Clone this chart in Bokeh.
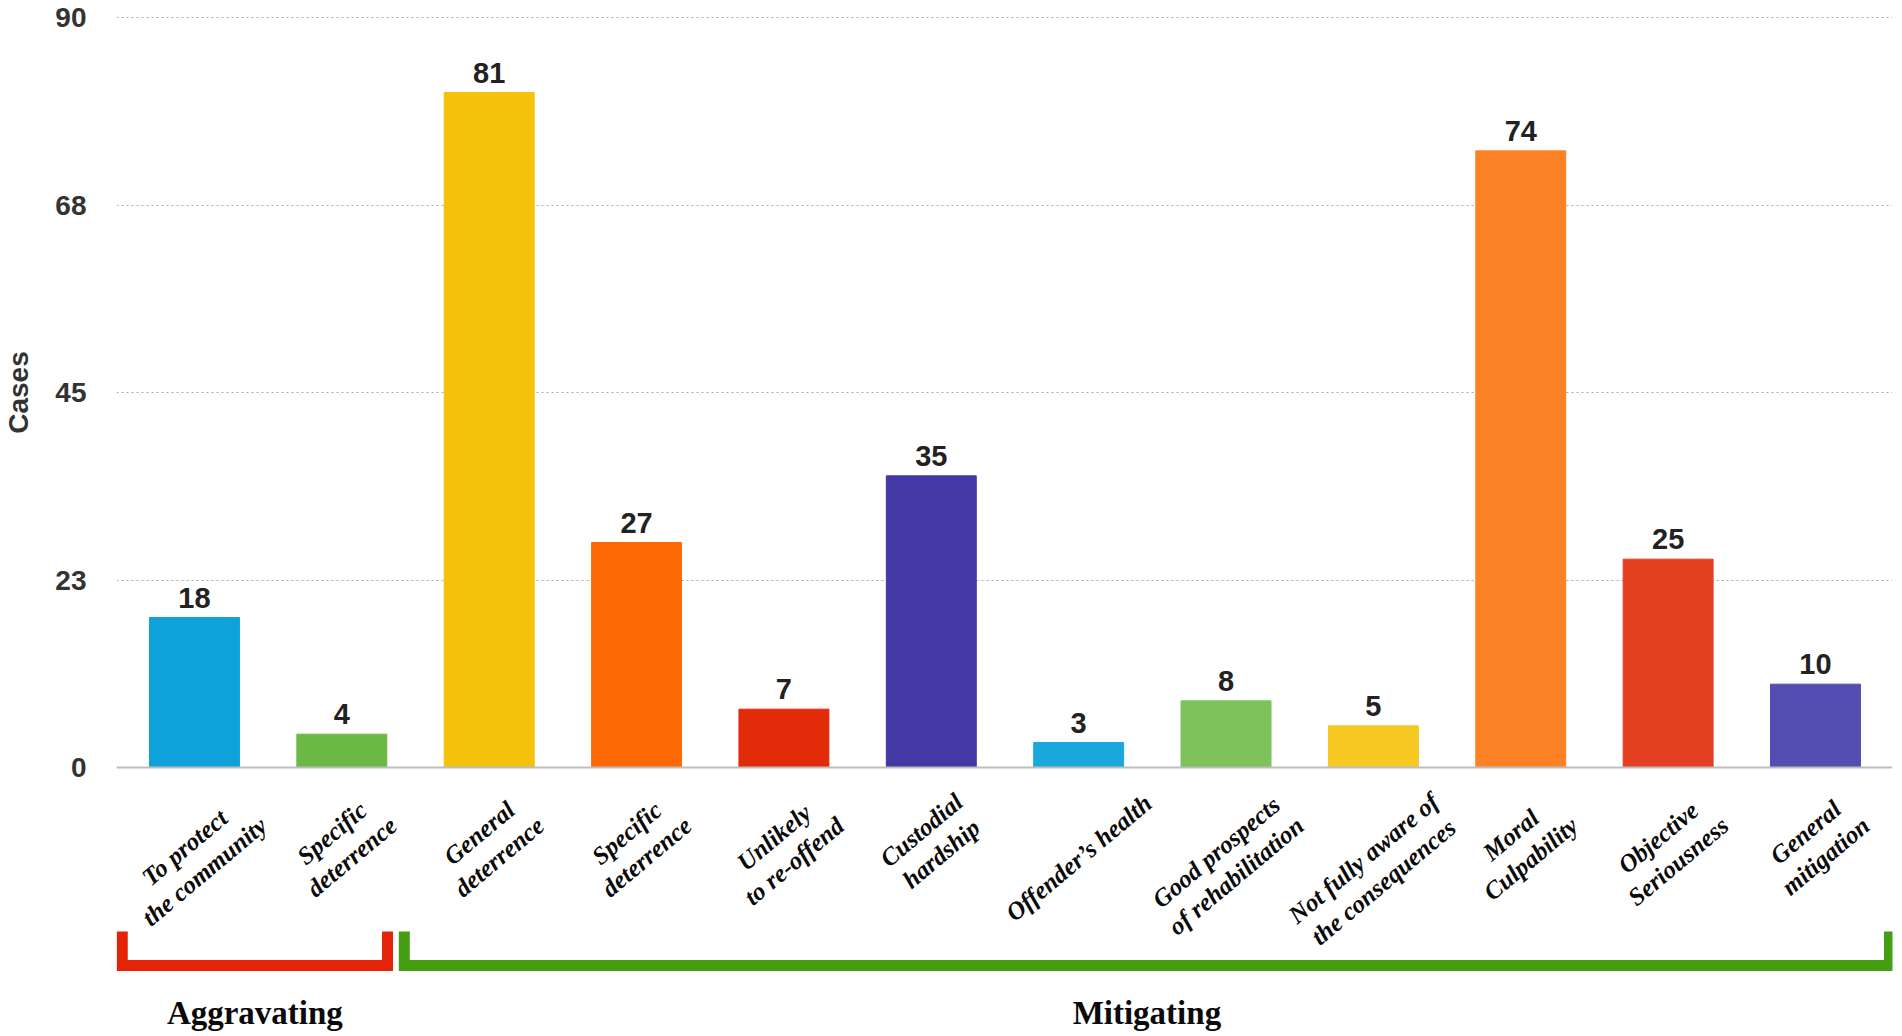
import math
from bokeh.plotting import figure
from bokeh.layouts import column
from bokeh.models import ColumnDataSource, Range1d, FixedTicker, Span
from bokeh.embed import file_html
from bokeh.resources import INLINE
from bokeh.core.properties import value

# ---------------- data ----------------
categories = [
    "To protect\nthe community",
    "Specific\ndeterrence",
    "General\ndeterrence",
    "Specific\ndeterrence",
    "Unlikely\nto re-offend",
    "Custodial\nhardship",
    "Offender\u2019s health",
    "Good prospects\nof rehabilitation",
    "Not fully aware of\nthe consequences",
    "Moral\nCulpability",
    "Objective\nSeriousness",
    "General\nmitigation",
]
cases = [18, 4, 81, 27, 7, 35, 3, 8, 5, 74, 25, 10]
bar_colors = [
    "#0EA1DA", "#6BB844", "#F5C10A", "#FD6A04", "#E22C09", "#4438A6",
    "#1AA8DE", "#7DC25A", "#F6C822", "#FD8226", "#E33F21", "#544DB2",
]
y_ticks = [0, 22.5, 45, 67.5, 90]
y_tick_labels = ["0", "23", "45", "68", "90"]
groups = ["Aggravating", "Mitigating"]
group_first = [0, 2]
group_last = [1, 11]
group_colors = ["#E32409", "#449E12"]

# ---------------- layout (page pixels) ----------------
W = 1900
TOP_H = 784           # height of the bar panel
BOT_H = 250           # height of the label / bracket panel
FRAME_LEFT = 115
FRAME_RIGHT = 1892
Y90_PAGE, Y0_PAGE = 17, 767
BAR0_PAGE, BAR_STEP = 193.0, 147.45
PX_Y = (Y0_PAGE - Y90_PAGE) / 90.0


def px_to_x(px):
    return (px - BAR0_PAGE) / BAR_STEP


def py_to_y(py):
    return (Y0_PAGE - py) / PX_Y


x_range = Range1d(px_to_x(FRAME_LEFT), px_to_x(FRAME_RIGHT))

p = figure(width=W, height=TOP_H, output_backend="svg", toolbar_location=None,
           x_range=x_range, y_range=Range1d(py_to_y(TOP_H), py_to_y(0)),
           x_axis_location=None, min_border_left=FRAME_LEFT,
           min_border_right=W - FRAME_RIGHT, min_border_top=0,
           min_border_bottom=0, outline_line_color=None,
           background_fill_color="white", border_fill_color="white")

yax = p.yaxis[0]
yax.ticker = FixedTicker(ticks=y_ticks)
yax.major_label_overrides = {t: l for t, l in zip(y_ticks, y_tick_labels)}
yax.axis_line_color = None
yax.major_tick_line_color = None
yax.minor_tick_line_color = None
yax.major_tick_out = 0
yax.major_tick_in = 0
yax.major_label_standoff = 30
yax.major_label_text_font = "Liberation Sans"
yax.major_label_text_font_style = "bold"
yax.major_label_text_font_size = "28px"
yax.major_label_text_color = "#333333"
yax.axis_label = "Cases"
yax.axis_label_standoff = 18
yax.axis_label_text_font = "Liberation Sans"
yax.axis_label_text_font_style = "bold"
yax.axis_label_text_font_size = "28px"
yax.axis_label_text_color = "#333333"

p.xgrid.visible = False
p.ygrid.ticker = FixedTicker(ticks=y_ticks[1:])
p.ygrid.grid_line_color = "#ABABAB"
p.ygrid.grid_line_dash = "2 3"
p.ygrid.grid_line_width = 1

xs = list(range(len(cases)))
VAL_GAP = 20   # px between bar top and the value label anchor
src = ColumnDataSource(dict(x=xs, top=cases, color=bar_colors,
                            label=[str(v) for v in cases],
                            ly=[v + VAL_GAP / PX_Y for v in cases]))
p.vbar(x="x", top="top", bottom=0, width=90 / BAR_STEP, color="color",
       line_color="color", source=src)

p.add_layout(Span(location=0, dimension="width", line_color="#BDBDBD",
                  line_width=2))

p.text(x="x", y="ly", text="label", source=src,
       text_align="center", text_baseline="alphabetic",
       text_font=value("Liberation Sans"), text_font_style="bold",
       text_font_size="29px", text_color="#222222")

# ---------------- lower panel: labels + brackets (y = page pixel) ----------------
q = figure(width=W, height=BOT_H, output_backend="svg", toolbar_location=None,
           x_range=x_range, y_range=Range1d(TOP_H + BOT_H, TOP_H),
           x_axis_location=None, y_axis_location=None,
           min_border_left=FRAME_LEFT, min_border_right=W - FRAME_RIGHT,
           min_border_top=0, min_border_bottom=0, outline_line_color=None,
           background_fill_color="white", border_fill_color="white")
q.xgrid.visible = False
q.ygrid.visible = False

# Times bold-italic advance widths (per 1000 em) to centre rotated labels
W_BI = {" ": 250, "-": 333, "\u2019": 333, "C": 667, "G": 722, "M": 889,
        "N": 722, "O": 722, "S": 556, "T": 611, "U": 722, "a": 500, "b": 500,
        "c": 444, "d": 500, "e": 444, "f": 333, "g": 500, "h": 556, "i": 278,
        "j": 278, "k": 500, "l": 278, "m": 778, "n": 556, "o": 500, "p": 500,
        "q": 500, "r": 389, "s": 389, "t": 278, "u": 556, "v": 444, "w": 667,
        "y": 444}
FS = 25
LH = 1.15
ANG = 40
LABEL_TOP = 790
sa, ca = math.sin(math.radians(ANG)), math.cos(math.radians(ANG))
lab_y = []
for c in categories:
    lines = c.split("\n")
    L = max(sum(W_BI.get(ch, 500) for ch in ln) for ln in lines) * FS / 1000
    Hb = (len(lines) - 1) * LH * FS + 0.9 * FS
    lab_y.append(LABEL_TOP + (L * sa + Hb * ca) / 2)
q.text(x=xs, y=lab_y, text=categories, angle=ANG, angle_units="deg",
       text_align="center", text_baseline="middle", text_line_height=LH,
       text_font=value("Liberation Serif"), text_font_style="bold italic",
       text_font_size=f"{FS}px", text_color="#0A0A0A")

PAD_L = [0.49, 0.576]
PAD_R = [0.31, 0.502]
BR_TOP, BR_BOT = 931, 965
bxs, bys, gx = [], [], []
for f, l, pl, pr in zip(group_first, group_last, PAD_L, PAD_R):
    a, b = f - pl, l + pr
    bxs.append([a, a, b, b])
    bys.append([BR_TOP, BR_BOT, BR_BOT, BR_TOP])
    gx.append((a + b) / 2)
q.multi_line(xs=bxs, ys=bys, line_color=group_colors, line_width=11,
             line_join="miter", line_cap="butt")
q.text(x=gx, y=[1012] * len(groups), text=groups,
       text_align="center", text_baseline="alphabetic",
       text_font=value("Liberation Serif"), text_font_style="bold",
       text_font_size="33px", text_color="#0A0A0A")

layout = column(p, q, spacing=0)
open("out.html", "w").write(file_html(layout, INLINE))
